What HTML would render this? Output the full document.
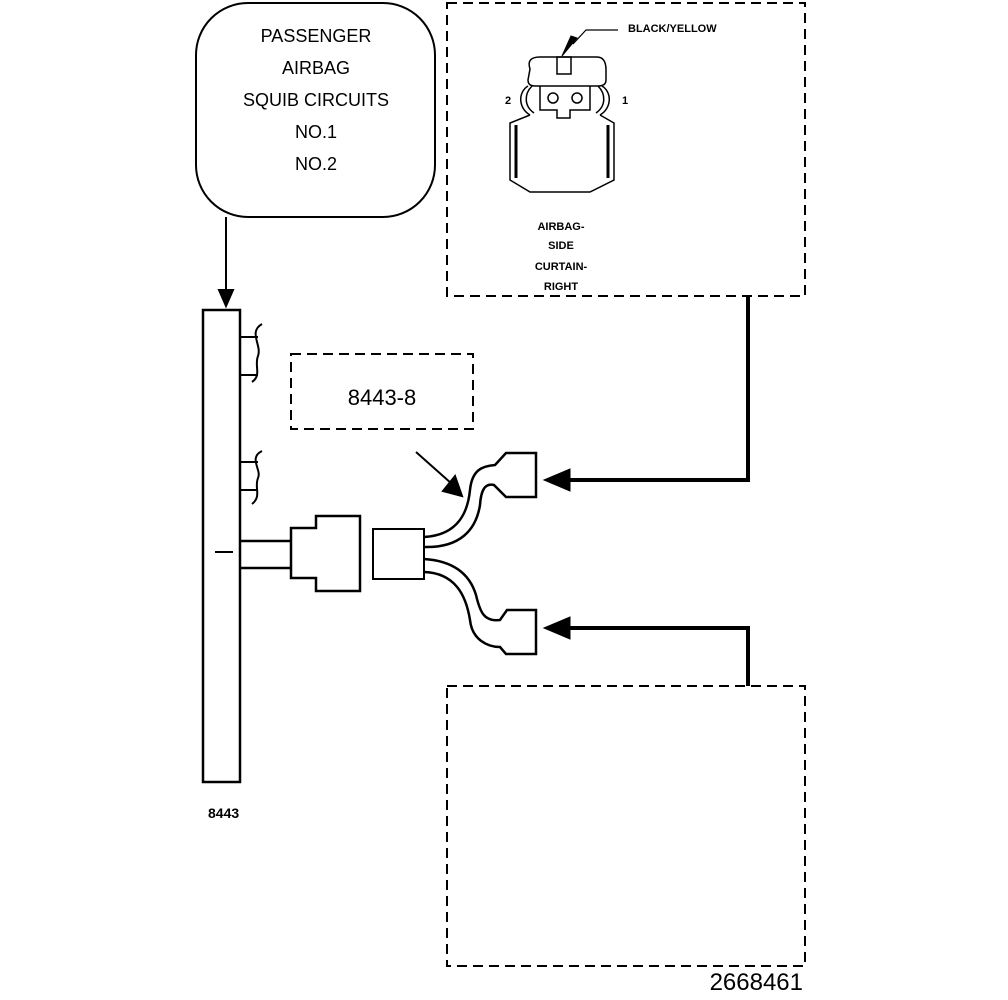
<!DOCTYPE html>
<html><head><style>body{margin:0;background:#fff}svg{display:block}text{font-family:"Liberation Sans",Arial,sans-serif;fill:#000}</style></head><body>
<svg width="1008" height="1000" viewBox="0 0 1008 1000" xmlns="http://www.w3.org/2000/svg">
<g fill="none" stroke="#000" stroke-width="2">
<rect x="196" y="3" width="239" height="214" rx="52"/>
<line x1="226" y1="217" x2="226" y2="292"/>
<path d="M219,290 L226,306 L233,290z" fill="#000"/>
<rect x="203" y="310" width="37" height="472" stroke-width="2.5"/>
<path d="M240,337 H258 M240,375 H258 M262,324 C248,332 262,345 258,356 C254,366 262,375 252,382"/>
<path d="M240,462 H258 M240,490 H258 M262,451 C248,458 262,470 258,478 C254,488 262,496 252,504"/>
<path d="M215,552 H233"/>
<path d="M240,541 H291 M240,568 H291" stroke-width="2.5"/>
<path d="M291,528 H316 V516 H360 V591 H316 V578 H291 Z" stroke-width="2.5"/>
<rect x="373" y="529" width="51" height="50"/>
<path d="M424,537 C460,535 468,510 470,490 C472,470 482,466 495,465 L506,453 H536 V497 H506 L494,485 C485,483 481,490 480,505 C476,530 460,548 424,547" stroke-width="2.5"/>
<path d="M424,559 C455,561 470,575 476,595 C480,612 484,622 500,620 L507,610 H536 V654 H506 L500,647 C488,647 472,640 470,620 C466,595 455,573 424,572" stroke-width="2.5"/>
<line x1="416" y1="452" x2="452" y2="484"/>
<path d="M443,491 L462,496 L455,476z" fill="#000"/>
<path d="M748,296 V480 H566 M748,686 V628 H566" stroke-width="4"/>
<path d="M544,480 L570,469 V491 Z M544,628 L570,617 V639 Z" fill="#000" stroke-width="1"/>
<g stroke-dasharray="10,6">
<rect x="447" y="3" width="358" height="293"/>
<rect x="447" y="686" width="358" height="280"/>
<rect x="291" y="354" width="182" height="75"/>
</g>
<path d="M530,69 Q526,57 540,57 H597 Q606,57 606,70 V80 Q606,86 598,86 H535 Q528,86 528,80 Z" stroke-width="1.5"/>
<rect x="557" y="57" width="14" height="17" stroke-width="1.5"/>
<path d="M540,86 V110 H557 V118 H570 V110 H590 V86" stroke-width="1.5"/>
<circle cx="553" cy="98" r="5" stroke-width="1.5"/><circle cx="577" cy="98" r="5" stroke-width="1.5"/>
<path d="M528,86 C518,92 518,108 530,115 M532,86 C524,94 524,106 534,113 M602,86 C612,92 612,108 600,115 M598,86 C606,94 606,106 596,113" stroke-width="1.5"/>
<path d="M530,115 L510,123 V180 L530,192 H590 L614,180 V123 L600,115" stroke-width="1.5"/>
<path d="M516,125 V178 M608,125 V178" stroke-width="3"/>
<path d="M573,44 L586,30 H618" stroke-width="1.2"/>
<path d="M562,56 L577,38 L571,36 Z" fill="#000" stroke-width="1"/>
</g>
<g text-anchor="middle" font-size="18">
<text x="316" y="42">PASSENGER</text>
<text x="316" y="74">AIRBAG</text>
<text x="316" y="106">SQUIB CIRCUITS</text>
<text x="316" y="138">NO.1</text>
<text x="316" y="170">NO.2</text>
</g>
<text x="382" y="405" font-size="22" text-anchor="middle">8443-8</text>
<text x="208" y="818" font-size="14" font-weight="bold">8443</text>
<text x="803" y="990" font-size="24" text-anchor="end">2668461</text>
<text x="628" y="32" font-size="11" font-weight="bold">BLACK/YELLOW</text>
<text x="505" y="104" font-size="11" font-weight="bold">2</text>
<text x="622" y="104" font-size="11" font-weight="bold">1</text>
<g text-anchor="middle" font-size="11" font-weight="bold">
<text x="561" y="230">AIRBAG-</text>
<text x="561" y="249">SIDE</text>
<text x="561" y="270">CURTAIN-</text>
<text x="561" y="290">RIGHT</text>
</g>
</svg>
</body></html>
